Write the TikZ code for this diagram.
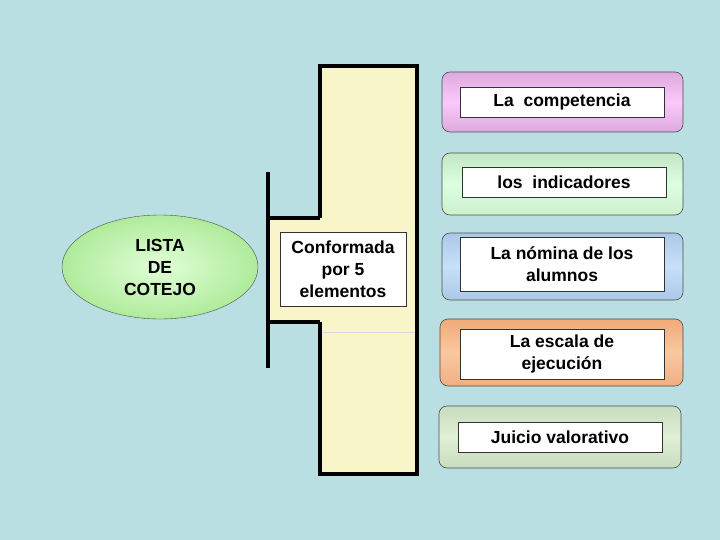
\documentclass[tikz,border=0pt]{standalone}
\usepackage{fontspec}
\setmainfont{Liberation Sans}
\usetikzlibrary{shapes.geometric}
\begin{document}
\begin{tikzpicture}[x=1pt,y=-1pt,
  outer/.style={draw=black!70, rounded corners=8pt, line width=0.6pt},
  inner/.style={draw=black!80, fill=white, line width=0.6pt, align=center,
    font=\bfseries\fontsize{17.5}{22}\selectfont},
  thick line/.style={line width=3.5pt, black}]
\fill[fill={rgb,255:red,185;green,223;blue,227}] (0,0) rectangle (720,540);
\useasboundingbox (0,0) rectangle (720,540);
% central shape
\fill[fill={rgb,255:red,248;green,246;blue,200}] (320,66) -- (417,66) -- (417,474) -- (320,474) -- (320,322) -- (268,322) -- (268,218) -- (320,218) -- cycle;
\draw[black!15] (320,332) -- (417,332);
\draw[thick line] (320,218) -- (320,66) -- (417,66) -- (417,474) -- (320,474) -- (320,322);
\draw[thick line] (268,218) -- (320,218);
\draw[thick line] (268,322) -- (320,322);
\draw[thick line] (268,172) -- (268,368);
% ellipse
\node[ellipse, draw=black!70, minimum width=196pt, minimum height=104pt, inner color={rgb,255:red,225;green,255;blue,215}, outer color={rgb,255:red,175;green,235;blue,155}, align=center, font=\bfseries\fontsize{17.5}{22}\selectfont] (lista) at (160,267) {LISTA\\DE\\COTEJO};
\node[draw=black!80, fill=white, line width=0.6pt, minimum width=126pt, minimum height=74pt, align=center, font=\bfseries\fontsize{17.5}{22}\selectfont] (conf) at (343,269) {Conformada\\por 5\\elementos};
% right boxes
\path[outer, top color={rgb,255:red,220;green,170;blue,220}, bottom color={rgb,255:red,220;green,170;blue,220}, middle color={rgb,255:red,250;green,200;blue,250}] (442,72) rectangle (683,132);
\node[inner, minimum width=204pt, minimum height=30pt] (b1) at (562,102) {La\ \ competencia};
\path[outer, top color={rgb,255:red,195;green,230;blue,195}, bottom color={rgb,255:red,205;green,240;blue,205}, middle color={rgb,255:red,220;green,255;blue,225}] (442,153) rectangle (683,215);
\node[inner, minimum width=204pt, minimum height=30pt] (b2) at (564,182) {los\ \ indicadores};
\path[outer, top color={rgb,255:red,170;green,200;blue,230}, bottom color={rgb,255:red,170;green,200;blue,230}, middle color={rgb,255:red,200;green,225;blue,250}] (442,233) rectangle (683,300);
\node[inner, minimum width=204pt, minimum height=54pt] (b3) at (562,264) {La nómina de los\\alumnos};
\path[outer, top color={rgb,255:red,240;green,170;blue,120}, bottom color={rgb,255:red,240;green,175;blue,130}, middle color={rgb,255:red,250;green,200;blue,160}] (440,319) rectangle (683,386);
\node[inner, minimum width=204pt, minimum height=50pt] (b4) at (562,354) {La escala de\\ejecución};
\path[outer, top color={rgb,255:red,200;green,220;blue,190}, bottom color={rgb,255:red,200;green,220;blue,190}, middle color={rgb,255:red,225;green,240;blue,215}] (439,406) rectangle (681,468);
\node[inner, minimum width=204pt, minimum height=30pt] (b5) at (560,437) {Juicio valorativo};
\end{tikzpicture}
\end{document}
